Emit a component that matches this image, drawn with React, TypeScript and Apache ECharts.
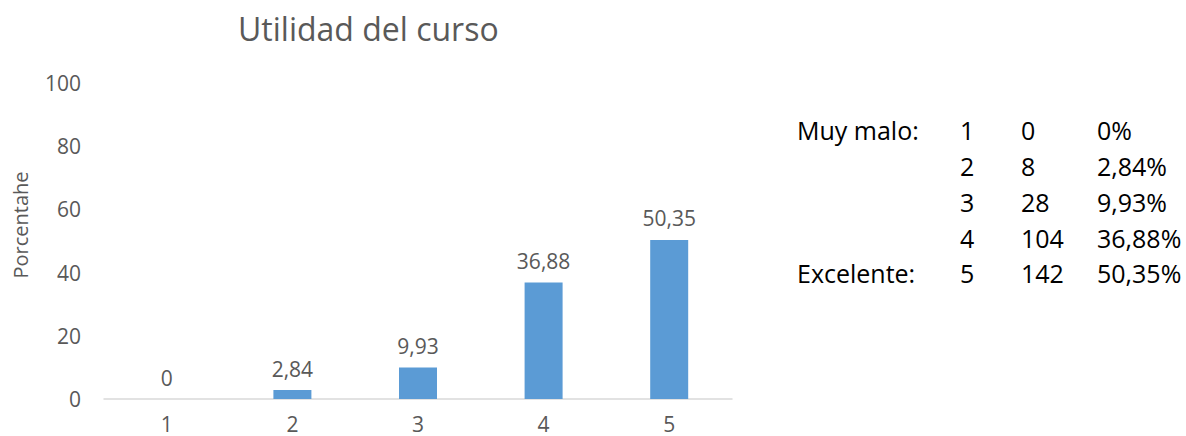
import React, { useEffect, useRef } from "react";
import * as echarts from "echarts";

const categories = ["1", "2", "3", "4", "5"];
const percentValues = [0, 2.84, 9.93, 36.88, 50.35];
const counts = [0, 8, 28, 104, 142];
const rowLabels = ["Muy malo:", "", "", "", "Excelente:"];
const yTicks = { min: 0, max: 100, interval: 20 };
const titleText = "Utilidad del curso";
const yAxisName = "Porcentahe";

const fmt = (v: number) => String(v).replace(".", ",");

export default function App() {
  const ref = useRef<HTMLDivElement>(null);
  useEffect(() => {
    if (!ref.current) return;
    const chart = echarts.init(ref.current, undefined, { renderer: "svg" });
    const font = "Open Sans";
    const gray = "#595959";
    const tableFont = 25;
    const rowY = [130, 166, 202, 238, 273];
    const tableGraphics: any[] = [];
    categories.forEach((c, i) => {
      const base = { fill: "#000", fontFamily: font, fontSize: tableFont, verticalAlign: "middle" };
      if (rowLabels[i]) {
        tableGraphics.push({ type: "text", x: 797, y: rowY[i], style: { ...base, text: rowLabels[i] } });
      }
      tableGraphics.push({ type: "text", x: 960, y: rowY[i], style: { ...base, text: c } });
      tableGraphics.push({ type: "text", x: 1021, y: rowY[i], style: { ...base, text: String(counts[i]) } });
      tableGraphics.push({ type: "text", x: 1097, y: rowY[i], style: { ...base, text: fmt(percentValues[i]) + "%" } });
    });
    chart.setOption({
      animation: false,
      textStyle: { fontFamily: font },
      title: {
        text: titleText,
        left: 233,
        top: 7,
        textStyle: { color: gray, fontSize: 32, fontWeight: "normal", fontFamily: font },
      },
      grid: { left: 104, right: 454, top: 83, bottom: 37, containLabel: false },
      xAxis: {
        type: "category",
        data: categories,
        axisTick: { show: false },
        axisLine: { lineStyle: { color: "#D9D9D9", width: 1.5 } },
        axisLabel: { color: gray, fontSize: 21, margin: 14 },
      },
      yAxis: {
        type: "value",
        min: yTicks.min,
        max: yTicks.max,
        interval: yTicks.interval,
        splitLine: { show: false },
        axisLine: { show: false },
        axisTick: { show: false },
        axisLabel: { color: gray, fontSize: 21, margin: 23 },
      },
      series: [
        {
          type: "bar",
          data: percentValues,
          barWidth: 38,
          itemStyle: { color: "#5B9BD5" },
          label: {
            show: true,
            position: "top",
            distance: 11,
            color: gray,
            fontSize: 21,
            formatter: (p: any) => fmt(p.value),
          },
        },
      ],
      graphic: [
        {
          type: "text",
          x: 20,
          y: 225,
          rotation: Math.PI / 2,
          style: { text: yAxisName, fill: gray, fontSize: 20, fontFamily: font, align: "center", verticalAlign: "middle" },
        },
        ...tableGraphics,
      ],
    });
    return () => chart.dispose();
  }, []);
  return <div ref={ref} style={{ position: "absolute", left: 0, top: 0, width: 1186, height: 436 }} />;
}
